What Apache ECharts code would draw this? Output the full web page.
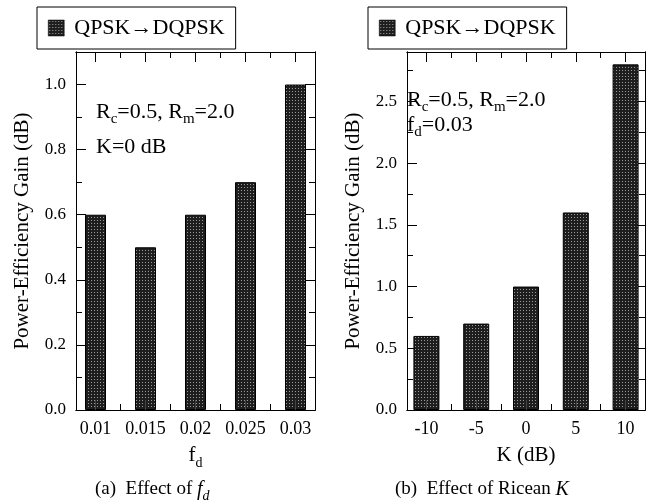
<!DOCTYPE html>
<html><head><meta charset="utf-8">
<script src="https://cdn.jsdelivr.net/npm/echarts@6/dist/echarts.min.js"></script>
<style>html,body{margin:0;padding:0;background:#fff}#c{width:646px;height:500px}</style>
</head><body><div id="c"></div>
<script>
// ---- data ----
const seriesName = 'QPSK→DQPSK';
const fdCategories = ['0.01', '0.015', '0.02', '0.025', '0.03'];
const fdGain = [0.6, 0.5, 0.6, 0.7, 1.0];
const kCategories = ['-10', '-5', '0', '5', '10'];
const kGain = [0.6, 0.7, 1.0, 1.6, 2.8];
const fdYTicks = [0, 0.2, 0.4, 0.6, 0.8, 1.0];
const fdYMinor = [0.1, 0.3, 0.5, 0.7, 0.9];
const kYTicks = [0, 0.5, 1.0, 1.5, 2.0, 2.5];
const kYMinor = [0.25, 0.75, 1.25, 1.75, 2.25, 2.75];

const FONT = 'Liberation Serif';

function makePattern() {
  const c = document.createElement('canvas');
  c.width = 3; c.height = 3;
  const g = c.getContext('2d');
  g.fillStyle = '#1e1e1e'; g.fillRect(0, 0, 3, 3);
  g.fillStyle = '#9a9a9a'; g.fillRect(1, 1, 1, 1);
  return c;
}
const barFill = { image: makePattern(), repeat: 'repeat' };

const lineStyle = { color: '#000', width: 1 };

function xAxesFor(gridIndex, cats, nameRich) {
  const major = cats.map((_, i) => i);
  const minor = major.slice(1).map(i => i - 0.5);
  const base = {
    type: 'value', gridIndex, min: -0.39, max: cats.length - 1 + 0.39,
    splitLine: { show: false }, axisLine: { show: true, onZero: false, lineStyle }
  };
  return [
    Object.assign({}, base, {
      position: 'bottom', z: 5,
      axisTick: { show: true, inside: true, length: 10, customValues: major, lineStyle: { color: '#444', width: 1 } },
      axisLabel: { customValues: major, formatter: v => cats[Math.round(v)], fontFamily: FONT, fontSize: 18, color: '#000', margin: 10 },
      name: nameRich.text, nameLocation: 'middle', nameGap: 35,
      nameTextStyle: { fontFamily: FONT, color: '#000', rich: nameRich.rich }
    }),
    Object.assign({}, base, {
      position: 'bottom',
      axisTick: { show: true, inside: true, length: 6, customValues: minor, lineStyle },
      axisLabel: { show: false }
    }),
    Object.assign({}, base, {
      position: 'top',
      axisTick: { show: true, inside: true, length: 10, customValues: major, lineStyle },
      axisLabel: { show: false }
    }),
    Object.assign({}, base, {
      position: 'top',
      axisTick: { show: true, inside: true, length: 6, customValues: minor, lineStyle },
      axisLabel: { show: false }
    })
  ];
}

function yAxesFor(gridIndex, maxV, ticks, minor) {
  const base = {
    type: 'value', gridIndex, min: 0, max: maxV,
    splitLine: { show: false }, axisLine: { show: true, onZero: false, lineStyle }
  };
  return [
    Object.assign({}, base, {
      position: 'left',
      axisTick: { show: true, inside: true, length: 10, customValues: ticks, lineStyle },
      axisLabel: { customValues: ticks, formatter: v => v.toFixed(1), fontFamily: FONT, fontSize: 17, color: '#000', margin: 10 },
      name: 'Power-Efficiency Gain (dB)', nameLocation: 'middle', nameRotate: 90, nameGap: 43,
      nameTextStyle: { fontFamily: FONT, fontSize: 21, color: '#000' }
    }),
    Object.assign({}, base, {
      position: 'left',
      axisTick: { show: true, inside: true, length: 6, customValues: minor, lineStyle },
      axisLabel: { show: false }
    }),
    Object.assign({}, base, {
      position: 'right',
      axisTick: { show: true, inside: true, length: 10, customValues: ticks, lineStyle },
      axisLabel: { show: false }
    }),
    Object.assign({}, base, {
      position: 'right',
      axisTick: { show: true, inside: true, length: 6, customValues: minor, lineStyle },
      axisLabel: { show: false }
    })
  ];
}

const subRich = (size) => ({
  a: { fontFamily: FONT, fontSize: size, lineHeight: size, verticalAlign: 'top', color: '#000' },
  s: { fontFamily: FONT, fontSize: Math.round(size * 0.68), lineHeight: Math.round(size * 0.68), verticalAlign: 'top', padding: [Math.round(size * 0.5), 0, 0, 0], color: '#000' },
  i: { fontFamily: FONT, fontStyle: 'italic', fontSize: size + 1, lineHeight: size, verticalAlign: 'top', color: '#000' },
  is: { fontFamily: FONT, fontStyle: 'italic', fontSize: Math.round(size * 0.75), lineHeight: Math.round(size * 0.75), verticalAlign: 'top', padding: [Math.round(size * 0.45), 0, 0, 0], color: '#000' }
});

function textEl(x, y, text, size) {
  return { type: 'text', x, y, style: { text, rich: subRich(size), fill: '#000', verticalAlign: 'top' } };
}

const legendBase = {
  top: 7, orient: 'horizontal', icon: 'rect', itemWidth: 16, itemHeight: 16,
  padding: [10, 11, 10, 11], borderColor: '#000', borderWidth: 1, backgroundColor: '#fff',
  data: [seriesName], selectedMode: false,
  itemStyle: { borderColor: '#000', borderWidth: 0.5 },
  textStyle: { fontFamily: FONT, fontSize: 22, color: '#000', padding: [0, 0, 0, 5] }
};

const option = {
  animation: false,
  backgroundColor: '#fff',
  grid: [
    { left: 76, top: 52, width: 239, height: 358 },
    { left: 407, top: 52, width: 238, height: 358 }
  ],
  legend: [
    Object.assign({}, legendBase, { left: 37 }),
    Object.assign({}, legendBase, { left: 368 })
  ],
  xAxis: [].concat(
    xAxesFor(0, fdCategories, { text: '{a|f}{s|d}', rich: subRich(21) }),
    xAxesFor(1, kCategories, { text: '{a|K (dB)}', rich: subRich(21) })
  ),
  yAxis: [].concat(
    yAxesFor(0, 1.1, fdYTicks, fdYMinor),
    yAxesFor(1, 2.9, kYTicks, kYMinor)
  ),
  series: [
    {
      name: seriesName, type: 'bar', xAxisIndex: 0, yAxisIndex: 0, barWidth: 21,
      data: fdGain.map((v, i) => [i, v]),
      itemStyle: { color: barFill, borderColor: '#000', borderWidth: 1 }
    },
    {
      name: seriesName, type: 'bar', xAxisIndex: 4, yAxisIndex: 4, barWidth: 26,
      data: kGain.map((v, i) => [i, v]),
      itemStyle: { color: barFill, borderColor: '#000', borderWidth: 1 }
    }
  ],
  graphic: [
    textEl(96, 101, '{a|R}{s|c}{a|=0.5, R}{s|m}{a|=2.0}', 22),
    textEl(96, 136, '{a|K=0 dB}', 22),
    textEl(407, 89, '{a|R}{s|c}{a|=0.5, R}{s|m}{a|=2.0}', 22),
    textEl(407, 114, '{a|f}{s|d}{a|=0.03}', 22),
    textEl(95, 480, '{a|(a)  Effect of }{i|f}{is|d}', 19),
    textEl(395, 480, '{a|(b)  Effect of Ricean }{i|K}', 19)
  ]
};

const chart = echarts.init(document.getElementById('c'), null, { renderer: 'canvas' });
chart.setOption(option);
</script>
</body></html>
